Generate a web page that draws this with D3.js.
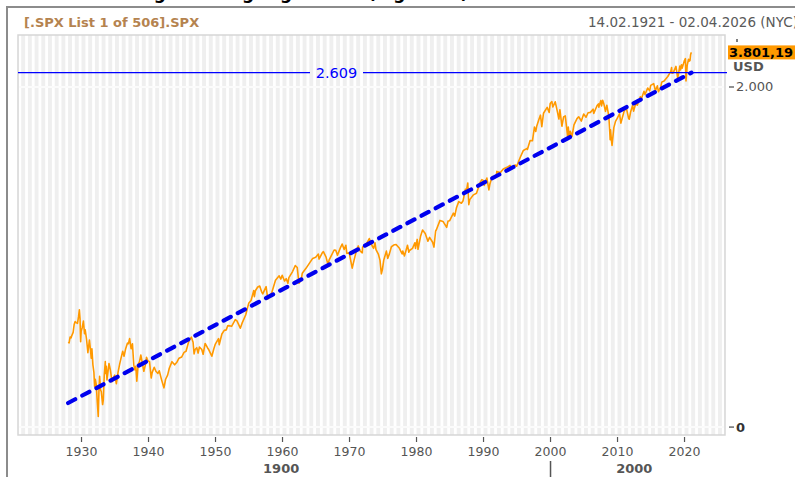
<!DOCTYPE html>
<html><head><meta charset="utf-8">
<script src="https://cdn.jsdelivr.net/npm/d3@7"></script>
<style>body{margin:0;background:#fff}svg{display:block}text{font-family:"DejaVu Sans",Verdana,sans-serif}</style>
</head><body><svg id="c" width="795" height="477"></svg>
<script>
// ---- data (decimal year, S&P 500 level) ----
const priceYears = [1928.00,1928.15,1928.30,1928.45,1928.55,1928.75,1928.90,1929.05,1929.20,1929.40,1929.55,1929.68,1929.78,1929.83,1929.87,1929.95,1930.10,1930.28,1930.45,1930.55,1930.75,1930.95,1931.05,1931.18,1931.35,1931.45,1931.55,1931.70,1931.85,1931.95,1932.05,1932.20,1932.35,1932.50,1932.60,1932.70,1932.85,1932.95,1933.15,1933.25,1933.40,1933.55,1933.60,1933.70,1933.80,1933.95,1934.10,1934.30,1934.55,1934.75,1934.95,1935.20,1935.45,1935.70,1935.95,1936.15,1936.35,1936.60,1936.85,1937.00,1937.18,1937.40,1937.60,1937.80,1937.95,1938.10,1938.25,1938.45,1938.65,1938.85,1939.00,1939.30,1939.55,1939.70,1939.90,1940.15,1940.40,1940.55,1940.85,1941.10,1941.40,1941.60,1941.95,1942.30,1942.55,1942.85,1943.10,1943.50,1943.90,1944.20,1944.55,1944.95,1945.30,1945.60,1945.95,1946.15,1946.40,1946.65,1946.80,1946.95,1947.20,1947.40,1947.60,1947.95,1948.15,1948.45,1948.80,1949.00,1949.45,1949.75,1949.95,1950.45,1950.55,1950.95,1951.30,1951.60,1951.80,1951.95,1952.40,1952.95,1953.20,1953.70,1953.95,1954.50,1954.95,1955.30,1955.70,1955.80,1955.95,1956.30,1956.60,1956.85,1957.05,1957.55,1957.80,1957.95,1958.40,1958.95,1959.50,1959.75,1959.95,1960.30,1960.55,1960.80,1960.95,1961.50,1961.90,1962.20,1962.45,1962.80,1962.95,1963.50,1963.95,1964.50,1964.95,1965.35,1965.45,1965.95,1966.10,1966.50,1966.80,1966.95,1967.70,1967.95,1968.20,1968.60,1968.90,1969.20,1969.45,1969.60,1969.95,1970.40,1970.60,1970.95,1971.30,1971.60,1971.90,1971.95,1972.50,1972.95,1973.40,1973.60,1973.80,1973.95,1974.30,1974.55,1974.75,1974.90,1975.10,1975.50,1975.70,1975.95,1976.25,1976.70,1976.95,1977.45,1977.85,1977.95,1978.20,1978.65,1978.85,1978.95,1979.40,1979.75,1979.85,1979.95,1980.10,1980.22,1980.60,1980.90,1981.30,1981.70,1981.95,1982.40,1982.60,1982.85,1982.95,1983.50,1983.95,1984.50,1984.70,1984.95,1985.50,1985.70,1985.95,1986.30,1986.70,1986.95,1987.30,1987.45,1987.65,1987.80,1987.95,1988.50,1988.95,1989.50,1989.75,1989.95,1990.10,1990.50,1990.80,1990.95,1991.30,1991.90,1991.98,1992.50,1992.95,1993.50,1993.95,1994.20,1994.70,1994.95,1995.50,1995.95,1996.50,1996.55,1996.95,1997.30,1997.60,1997.80,1997.95,1998.30,1998.50,1998.70,1998.95,1999.50,1999.80,1999.95,2000.20,2000.35,2000.70,2000.95,2001.25,2001.40,2001.70,2001.95,2002.20,2002.55,2002.65,2002.80,2002.95,2003.20,2003.50,2003.95,2004.20,2004.60,2004.95,2005.30,2005.60,2005.95,2006.35,2006.45,2006.95,2007.15,2007.20,2007.50,2007.62,2007.78,2007.95,2008.20,2008.40,2008.70,2008.85,2008.90,2008.95,2009.10,2009.18,2009.45,2009.70,2009.95,2010.30,2010.50,2010.95,2011.30,2011.65,2011.75,2011.95,2012.25,2012.40,2012.70,2012.95,2013.40,2013.50,2013.95,2014.10,2014.50,2014.80,2014.95,2015.40,2015.65,2015.95,2016.10,2016.45,2016.60,2016.95,2017.50,2017.95,2018.07,2018.12,2018.30,2018.72,2018.98,2019.30,2019.40,2019.55,2019.65,2019.95,2020.13,2020.22,2020.40,2020.60,2020.70,2020.82,2020.90,2020.98,2021.03];
const priceValues = [17.5,17.3,19.3,19.0,19.8,21.0,24.3,25.7,25.2,24.8,28.0,31.9,27.0,20.4,17.7,21.5,22.9,25.9,20.5,22.0,18.5,14.4,16.0,18.2,15.0,13.0,15.5,11.5,10.0,7.7,8.8,8.0,5.8,4.4,7.0,9.3,7.2,7.0,5.5,6.0,9.6,12.2,9.8,11.2,8.7,10.1,11.8,10.5,8.4,9.0,9.5,8.1,10.0,11.7,13.4,14.8,13.5,15.6,17.2,17.0,18.7,15.5,17.0,11.5,10.5,11.2,8.5,11.6,12.2,13.8,12.5,10.2,11.6,13.2,12.4,12.2,9.0,10.0,11.0,10.2,9.8,10.3,8.7,7.5,8.8,9.5,10.8,12.2,11.5,12.0,13.0,13.3,14.5,14.8,17.3,18.5,19.2,17.5,14.1,15.3,15.8,14.3,16.0,15.3,14.0,17.1,15.8,15.2,13.5,15.5,16.8,18.7,16.7,20.4,21.8,22.0,23.7,23.8,23.5,26.6,26.0,22.7,24.8,29.0,36.0,38.0,45.6,40.8,45.5,48.8,49.7,45.0,43.0,49.1,39.0,40.0,44.0,55.2,60.0,56.5,60.7,54.5,57.0,52.3,58.1,65.0,72.6,70.0,52.3,56.0,63.1,69.0,75.0,83.0,84.7,90.0,82.0,92.4,94.0,85.0,73.2,80.3,97.0,96.5,88.0,100.0,108.4,98.0,106.0,91.0,92.1,69.3,77.0,92.2,104.6,95.0,92.0,102.1,108.0,119.9,104.0,100.0,111.0,97.6,90.0,80.0,62.3,67.0,80.0,95.0,83.0,90.2,103.0,107.0,107.5,100.0,90.0,95.1,86.9,106.0,93.0,96.1,100.0,111.0,100.0,107.9,118.0,98.2,125.0,140.5,132.0,114.0,122.5,112.0,102.4,138.0,140.6,168.0,164.9,147.8,166.0,167.2,192.0,182.0,211.3,238.0,231.0,242.2,300.0,290.0,336.8,224.8,247.1,270.0,277.7,340.0,358.0,353.4,322.0,368.9,295.5,330.2,380.0,375.0,417.1,408.0,435.7,450.0,466.5,438.0,470.0,459.3,545.0,615.9,640.0,626.0,740.7,737.0,950.0,876.0,970.4,1110.0,1186.0,957.0,1229.0,1370.0,1247.0,1469.0,1527.0,1380.0,1520.0,1320.0,1103.0,1312.0,965.0,1148.0,1170.0,800.0,950.0,776.0,880.0,800.0,990.0,1111.9,1150.0,1063.0,1211.9,1140.0,1240.0,1248.3,1325.0,1223.0,1418.3,1460.0,1374.0,1553.0,1406.0,1565.0,1468.4,1273.0,1426.0,1166.0,848.0,752.0,903.0,735.0,676.5,940.0,1057.0,1115.1,1217.0,1022.0,1257.6,1363.0,1119.0,1099.0,1257.6,1419.0,1278.0,1465.0,1426.2,1669.0,1573.0,1848.4,1741.0,1960.0,1862.0,2058.9,2130.0,1867.0,2043.9,1829.0,2000.0,2190.0,2238.8,2430.0,2673.6,2872.0,2581.0,2600.0,2930.0,2351.0,2945.0,2744.0,3025.0,2840.0,3230.8,3386.0,2237.0,3000.0,3350.0,3236.0,3270.0,3640.0,3756.0,3801.19];
const trendYears = [1928.0, 2021.03];
const trendValues = [5.66, 2609];
const trendLabel = "2.609";
const lastLabel = "3.801,19";
const xTickYears = [1930,1940,1950,1960,1970,1980,1990,2000,2010,2020];
const yTickValues = [3.62, 2000];
const yTickLabels = ["0", "2.000"];
const centuryLabels = ["1900", "2000"];
const centuryCenters = [1959.8, 2012.5];
const centuryBreak = 2000;
const titleText = "[.SPX List 1 of 506].SPX";
const rangeText = "14.02.1921 - 02.04.2026 (NYC)";
const headText = "Long-term log regression";
const headText2 = "(log scale)";

// ---- layout ----
const L = 18, R = 725, T = 35, B = 435;
const svg = d3.select("#c");
const x = d3.scaleLinear().domain([1920.52, 2026.04]).range([L, R]);
const y = d3.scaleLog().domain([3.125, 5252]).range([B, T]);

// top cut-off heading
svg.append("text").attr("x", 362).attr("y", -1).attr("text-anchor","end")
  .attr("font-size", 17).attr("font-weight","bold").attr("fill","#000").text(headText);
svg.append("text").attr("x", 368).attr("y", -1)
  .attr("font-size", 17).attr("font-weight","bold").attr("fill","#000").text(headText2);

// frame
svg.append("line").attr("x1",7).attr("x2",795).attr("y1",7).attr("y2",7).attr("stroke","#8c8c8c").attr("stroke-width",2);
svg.append("line").attr("x1",7).attr("x2",7).attr("y1",6).attr("y2",477).attr("stroke","#8c8c8c").attr("stroke-width",2);

svg.append("text").attr("x",24).attr("y",27).attr("font-size",13).attr("font-weight","bold")
  .attr("fill","#b5834f").text(titleText);
svg.append("text").attr("x",588).attr("y",27).attr("font-size",13.5).attr("fill","#5a5a5a").text(rangeText);

// plot background stripes
const clip = svg.append("clipPath").attr("id","pc");
clip.append("rect").attr("x",L).attr("y",T).attr("width",R-L).attr("height",B-T);
const g = svg.append("g").attr("clip-path","url(#pc)");
g.append("rect").attr("x",L).attr("y",T).attr("width",R-L).attr("height",B-T).attr("fill","#ffffff");
const stripeYears = d3.range(1920, 2027);
g.selectAll("rect.s").data(stripeYears).enter().append("rect").attr("class","s")
  .attr("x", d => x(d)).attr("y", T)
  .attr("width", d => x(d+1) - x(d) - 2.8).attr("height", B-T)
  .attr("fill", "#efefef");
// horizontal grid at tick values
g.selectAll("line.hg").data(yTickValues).enter().append("line").attr("class","hg")
  .attr("x1",L).attr("x2",R).attr("y1",d=>y(d)).attr("y2",d=>y(d))
  .attr("stroke","#fbfbfb").attr("stroke-width",2);
svg.append("rect").attr("x",L).attr("y",T).attr("width",R-L).attr("height",B-T)
  .attr("fill","none").attr("stroke","#d6d6d6").attr("stroke-width",1.5);

// horizontal trend end line with label
const yl = y(trendValues[1]);
svg.append("line").attr("x1",L).attr("x2",310).attr("y1",yl).attr("y2",yl).attr("stroke","#0000ff").attr("stroke-width",1.2);
svg.append("line").attr("x1",363).attr("x2",R+2).attr("y1",yl).attr("y2",yl).attr("stroke","#0000ff").attr("stroke-width",1.2);
svg.append("text").attr("x",336.5).attr("y",yl+5).attr("text-anchor","middle").attr("font-size",14.5)
  .attr("fill","#0000ff").text(trendLabel);

// price line
const pts = priceYears.map((d,i)=>[d, priceValues[i]]);
g.append("path").datum(pts).attr("fill","none").attr("stroke","#ff9900").attr("stroke-width",1.6)
  .attr("stroke-linejoin","round")
  .attr("d", d3.line().x(d=>x(d[0])).y(d=>y(d[1])));

// trend (log-linear -> straight line)
const tr = trendYears.map((d,i)=>[d, trendValues[i]]);
g.append("path").datum(tr).attr("fill","none").attr("stroke","#0000ee").attr("stroke-width",4.2)
  .attr("stroke-dasharray","8,8").attr("stroke-linecap","round")
  .attr("d", d3.line().x(d=>x(d[0])).y(d=>y(d[1])));

// y axis (right)
const ya = svg.append("g");
yTickValues.forEach((v,i)=>{
  ya.append("line").attr("x1",729).attr("x2",734).attr("y1",y(v)).attr("y2",y(v)).attr("stroke","#555").attr("stroke-width",1.3);
  ya.append("text").attr("x",736).attr("y",y(v)+4.5).attr("font-size",13)
    .attr("font-weight", i===0 ? "bold" : "normal")
    .attr("fill", i===0 ? "#333" : "#555").text(yTickLabels[i]);
});
// last value label
const yv = y(priceValues[priceValues.length-1]);
svg.append("line").attr("x1",737).attr("x2",737).attr("y1",39).attr("y2",42).attr("stroke","#555").attr("stroke-width",1.5);
svg.append("rect").attr("x",728).attr("y",yv-7).attr("width",67).attr("height",14).attr("fill","#ff9900");
svg.append("text").attr("x",729).attr("y",yv+5).attr("font-size",13).attr("font-weight","bold").attr("fill","#000").text(lastLabel);
svg.append("text").attr("x",733).attr("y",yv+19).attr("font-size",13).attr("font-weight","bold").attr("fill","#555").text("USD");

// x axis
const xa = svg.append("g");
xa.selectAll("line.xt").data(xTickYears).enter().append("line").attr("class","xt")
  .attr("x1",d=>x(d)).attr("x2",d=>x(d)).attr("y1",437).attr("y2",442).attr("stroke","#555").attr("stroke-width",1.2);
xa.selectAll("text.xl").data(xTickYears).enter().append("text").attr("class","xl")
  .attr("x",d=>x(d)).attr("y",456).attr("text-anchor","middle").attr("font-size",12.5).attr("fill","#555").text(d=>d);
xa.selectAll("text.cl").data(centuryLabels).enter().append("text").attr("class","cl")
  .attr("x",(d,i)=>x(centuryCenters[i])).attr("y",473).attr("text-anchor","middle")
  .attr("font-size",13).attr("font-weight","bold").attr("fill","#555").text(d=>d);
xa.append("line").attr("x1",x(centuryBreak)).attr("x2",x(centuryBreak)).attr("y1",461).attr("y2",477)
  .attr("stroke","#555").attr("stroke-width",1.5);
</script></body></html>
